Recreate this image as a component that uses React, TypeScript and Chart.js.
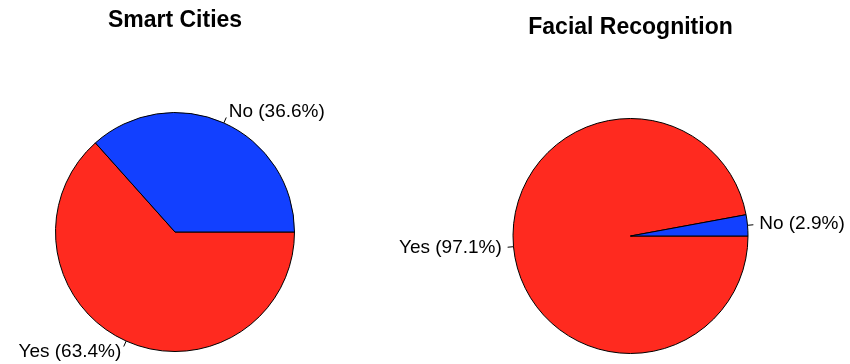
import React, { useEffect, useRef } from "react";
import { Chart, registerables } from "chart.js";

Chart.register(...registerables);

// Data
const categories = ["Yes", "No"];
const smartCitiesValues = [63.4, 36.6];
const facialRecognitionValues = [97.1, 2.9];
const chartTitles = ["Smart Cities", "Facial Recognition"];
const sliceColors = ["#FF2A1F", "#1240FF"];

const FONT = "'Liberation Sans', Arial, Helvetica, sans-serif";

type PieSpec = {
  title: string;
  values: number[];
  cx: number;
  cy: number;
  r: number;
  titleY: number;
};

const WIDTH = 850;
const HEIGHT = 364;

const specs: PieSpec[] = [
  { title: chartTitles[0], values: smartCitiesValues, cx: 175, cy: 232, r: 119.5, titleY: 21 },
  { title: chartTitles[1], values: facialRecognitionValues, cx: 630.5, cy: 236, r: 117.5, titleY: 28 },
];

const labelPlugin = {
  id: "pieLabels",
  afterDraw(chart: any, _args: any, opts: any) {
    const ctx = chart.ctx;
    const meta = chart.getDatasetMeta(0);
    const data = chart.data.datasets[0].data as number[];
    const labels = chart.data.labels as string[];
    ctx.save();
    ctx.font = `19px ${FONT}`;
    ctx.fillStyle = "#000";
    ctx.strokeStyle = "#000";
    ctx.lineWidth = 1;
    meta.data.forEach((arc: any, i: number) => {
      const p = arc.getProps(["x", "y", "startAngle", "endAngle", "outerRadius"], true);
      const mid = (p.startAngle + p.endAngle) / 2;
      const c = Math.cos(mid);
      const s = Math.sin(mid);
      const r = p.outerRadius;
      ctx.beginPath();
      ctx.moveTo(p.x + r * c, p.y + r * s);
      ctx.lineTo(p.x + 1.05 * r * c, p.y + 1.05 * r * s);
      ctx.stroke();
      ctx.textAlign = c < 0 ? "right" : "left";
      ctx.textBaseline = "middle";
      ctx.fillText(`${labels[i]} (${data[i].toFixed(1)}%)`, p.x + 1.1 * r * c, p.y + 1.1 * r * s);
    });
    ctx.font = `bold 23px ${FONT}`;
    ctx.textAlign = "center";
    ctx.textBaseline = "middle";
    ctx.fillText(opts.title, opts.titleX, opts.titleY);
    ctx.restore();
  },
};

function PieChart({ spec }: { spec: PieSpec }) {
  const ref = useRef<HTMLCanvasElement | null>(null);
  useEffect(() => {
    if (!ref.current) return;
    const d = spec.r * 2 + 1;
    const padLeft = spec.cx - d / 2;
    const padTop = spec.cy - d / 2;
    const padRight = WIDTH - spec.cx - d / 2;
    const padBottom = HEIGHT - spec.cy - d / 2;
    const chart = new Chart(ref.current, {
      type: "pie",
      data: {
        labels: categories,
        datasets: [
          {
            data: spec.values,
            backgroundColor: sliceColors,
            borderColor: "#000",
            borderWidth: 1,
          },
        ],
      },
      options: {
        responsive: false,
        animation: false,
        rotation: 90,
        layout: { padding: { left: padLeft, right: padRight, top: padTop, bottom: padBottom } },
        plugins: {
          legend: { display: false },
          title: { display: false },
          tooltip: { enabled: false },
          pieLabels: { title: spec.title, titleX: spec.cx, titleY: spec.titleY },
        } as any,
      },
      plugins: [labelPlugin],
    });
    return () => chart.destroy();
  }, [spec]);
  return (
    <canvas
      ref={ref}
      width={WIDTH}
      height={HEIGHT}
      style={{ position: "absolute", left: 0, top: 0, width: WIDTH, height: HEIGHT }}
    />
  );
}

export default function App() {
  return (
    <div style={{ position: "absolute", left: 0, top: 0, width: WIDTH, height: HEIGHT, background: "#fff", overflow: "hidden" }}>
      {specs.map((s) => (
        <PieChart key={s.title} spec={s} />
      ))}
    </div>
  );
}
